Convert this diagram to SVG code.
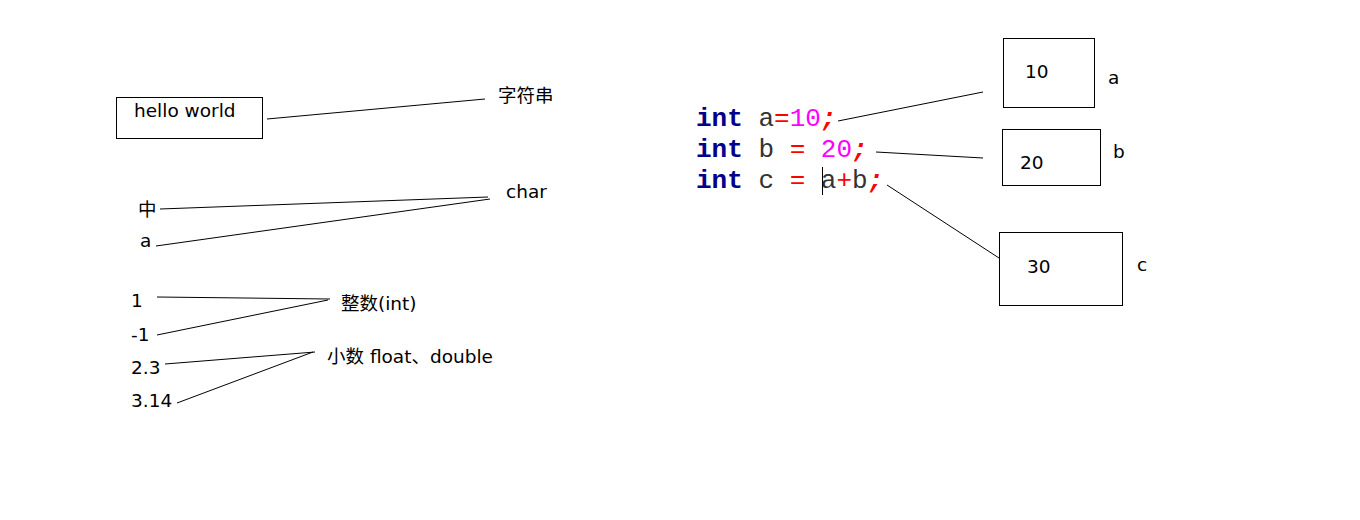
<svg xmlns="http://www.w3.org/2000/svg" width="1360" height="520" viewBox="0 0 1360 520">
<style>
.t{font-family:"DejaVu Sans","Noto Sans CJK SC",sans-serif;font-size:18.5px;fill:#000}
.box{fill:none;stroke:#000;stroke-width:1}
.ln{stroke:#000;stroke-width:1;fill:none}
.code{font-family:"Liberation Mono","Courier New",monospace;font-size:26px}
.kw{fill:#00008B;font-weight:bold}
.id{fill:#333}
.op{fill:#FF0000}
.num{fill:#FF00FF}
.semi{fill:#FF0000;font-weight:bold;font-style:italic}
</style>
<rect width="1360" height="520" fill="#fff"/>
<g id="connectors">
<line class="ln" x1="267" y1="119" x2="485" y2="99"/>
<line class="ln" x1="160" y1="209" x2="488" y2="197"/>
<line class="ln" x1="156" y1="246" x2="490" y2="199"/>
<line class="ln" x1="157" y1="297" x2="330" y2="299"/>
<line class="ln" x1="157" y1="335" x2="328" y2="300"/>
<line class="ln" x1="165" y1="364" x2="315" y2="352"/>
<line class="ln" x1="177" y1="403" x2="313" y2="352"/>
<line class="ln" x1="838" y1="121" x2="983" y2="92"/>
<line class="ln" x1="876" y1="152" x2="983" y2="158"/>
<line class="ln" x1="887" y1="185" x2="999" y2="258"/>
</g>
<g id="hello">
<rect class="box" x="116.5" y="97.5" width="146" height="41"/>
<text class="t" x="134" y="117">hello world</text>
</g>
<g id="string"><text class="t" x="498" y="102">字符串</text></g>
<g id="char"><text class="t" x="506" y="198">char</text></g>
<g id="zhong"><text class="t" x="138" y="216">中</text></g>
<g id="a-char"><text class="t" x="140" y="247">a</text></g>
<g id="one"><text class="t" x="131" y="307">1</text></g>
<g id="minus-one"><text class="t" x="131" y="341">-1</text></g>
<g id="two-three"><text class="t" x="131" y="374">2.3</text></g>
<g id="three-fourteen"><text class="t" x="131" y="407">3.14</text></g>
<g id="int-label"><text class="t" x="341" y="310">整数(int)</text></g>
<g id="float-label"><text class="t" x="327" y="363">小数 float、double</text></g>
<g id="code">
<text class="code" x="696" y="126"><tspan class="kw">int</tspan><tspan class="id"> a</tspan><tspan class="op">=</tspan><tspan class="num">10</tspan><tspan class="semi">;</tspan></text>
<text class="code" x="696" y="157"><tspan class="kw">int</tspan><tspan class="id"> b </tspan><tspan class="op">=</tspan><tspan class="num"> 20</tspan><tspan class="semi">;</tspan></text>
<text class="code" x="696" y="188"><tspan class="kw">int</tspan><tspan class="id"> c </tspan><tspan class="op">=</tspan><tspan class="id"> a</tspan><tspan class="op">+</tspan><tspan class="id">b</tspan><tspan class="semi">;</tspan></text>
<line x1="822.5" y1="167" x2="822.5" y2="195" stroke="#000" stroke-width="1"/>
</g>
<g id="box-a">
<rect class="box" x="1003.5" y="38.5" width="91" height="69"/>
<text class="t" x="1025" y="78">10</text>
<text class="t" x="1108" y="84">a</text>
</g>
<g id="box-b">
<rect class="box" x="1002.5" y="129.5" width="98" height="56"/>
<text class="t" x="1020" y="169">20</text>
<text class="t" x="1113" y="158">b</text>
</g>
<g id="box-c">
<rect class="box" x="999.5" y="232.5" width="123" height="73"/>
<text class="t" x="1027" y="273">30</text>
<text class="t" x="1137" y="271">c</text>
</g>
</svg>
